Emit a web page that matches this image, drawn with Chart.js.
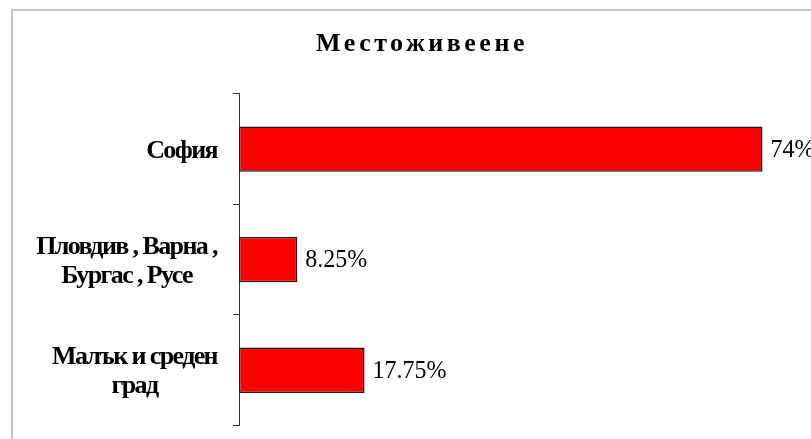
<!DOCTYPE html>
<html>
<head>
<meta charset="utf-8">
<script src="https://cdn.jsdelivr.net/npm/chart.js@4/dist/chart.umd.min.js"></script>
<style>
  html, body { margin: 0; padding: 0; background: #ffffff; }
  #wrap { position: relative; width: 811px; height: 439px; overflow: hidden; }
  #frame { position: absolute; left: 11px; top: 9px; width: 900px; height: 500px;
           border-left: 2px solid #c4c4c4; border-top: 2px solid #c4c4c4; box-sizing: border-box; }
  canvas { position: absolute; left: 0; top: 0; }
</style>
</head>
<body>
<div id="wrap">
  <div id="frame"></div>
  <canvas id="c" width="811" height="439"></canvas>
</div>
<script>
// ---- data ----
const titleText = 'Местоживеене';
const categories = [
  ['София'],
  ['Пловдив , Варна ,', 'Бургас , Русе'],
  ['Малък и среден', 'град']
];
const shares = [74, 8.25, 17.75];   // percent
const valueSuffix = '%';
const axisMin = 0;
const axisMax = 80;

// ---- custom category scale: multi-line labels centred within their own block ----
class BlockCategoryScale extends Chart.CategoryScale {
  drawLabels() {
    const ctx = this.ctx;
    const opts = this.options.ticks;
    const font = Chart.helpers.toFont(opts.font);
    ctx.save();
    ctx.font = font.string;
    ctx.fillStyle = opts.color;
    ctx.letterSpacing = '-1.6px';
    ctx.textBaseline = 'middle';
    ctx.textAlign = 'center';
    const right = this.right - opts.padding - this.options.grid.tickLength;
    this.ticks.forEach((t, i) => {
      const lines = [].concat(t.label);
      const bw = Math.max(...lines.map(l => ctx.measureText(l).width));
      const cx = right - bw / 2;
      const y0 = this.getPixelForTick(i) + 2 - (lines.length - 1) * font.lineHeight / 2;
      lines.forEach((l, j) => ctx.fillText(l, cx, y0 + j * font.lineHeight));
    });
    ctx.restore();
  }
}
BlockCategoryScale.id = 'blockCategory';
BlockCategoryScale.defaults = Chart.CategoryScale.defaults;
Chart.register(BlockCategoryScale);

// title letter spacing
const spacingPlugin = {
  id: 'spacing',
  beforeDraw(chart) { chart.ctx.letterSpacing = '3.5px'; },
  afterDraw(chart) { chart.ctx.letterSpacing = '0px'; }
};

// value labels at the end of the bars
const valueLabels = {
  id: 'valueLabels',
  afterDatasetsDraw(chart) {
    const ctx = chart.ctx;
    const meta = chart.getDatasetMeta(0);
    ctx.save();
    ctx.letterSpacing = '0px';
    ctx.font = '24px "Liberation Serif", "Times New Roman", serif';
    ctx.fillStyle = '#000000';
    ctx.textAlign = 'left';
    ctx.textBaseline = 'middle';
    meta.data.forEach((bar, i) => {
      ctx.save();
      ctx.translate(bar.x + 8, bar.y + 1);
      ctx.scale(1, 1.08);
      ctx.fillText(String(chart.data.datasets[0].data[i]) + valueSuffix, 0, 0);
      ctx.restore();
    });
    ctx.restore();
  }
};

new Chart(document.getElementById('c'), {
  type: 'bar',
  data: {
    labels: categories,
    datasets: [{
      data: shares,
      backgroundColor: '#ff0000',
      borderColor: '#1a1a1a',
      borderWidth: 1.5,
      borderSkipped: false,
      barPercentage: 0.41,
      categoryPercentage: 1
    }]
  },
  options: {
    indexAxis: 'y',
    responsive: false,
    animation: false,
    events: [],
    layout: { padding: { left: 39, right: 6, top: 10, bottom: 13.5 } },
    plugins: {
      legend: { display: false },
      tooltip: { enabled: false },
      title: {
        display: true,
        text: titleText,
        color: '#000000',
        font: { family: '"Liberation Serif", "Times New Roman", serif', size: 26, weight: 'bold', lineHeight: 1.2 },
        padding: { top: 19, bottom: 33.6 }
      }
    },
    scales: {
      x: { type: 'linear', display: false, min: axisMin, max: axisMax },
      y: {
        type: 'blockCategory',
        offset: true,
        afterFit(scale) { scale.width = 200; scale.paddingTop = 0; scale.paddingBottom = 0; },
        grid: { display: true, drawOnChartArea: false, drawTicks: true, tickLength: 6, color: '#333333', lineWidth: 1, offset: true },
        border: { display: true, color: '#333333', width: 1 },
        ticks: {
          color: '#000000',
          padding: 16,
          font: { family: '"Liberation Serif", "Times New Roman", serif', size: 26, weight: 'bold', lineHeight: 1.12 }
        }
      }
    }
  },
  plugins: [spacingPlugin, valueLabels]
});
</script>
</body>
</html>
